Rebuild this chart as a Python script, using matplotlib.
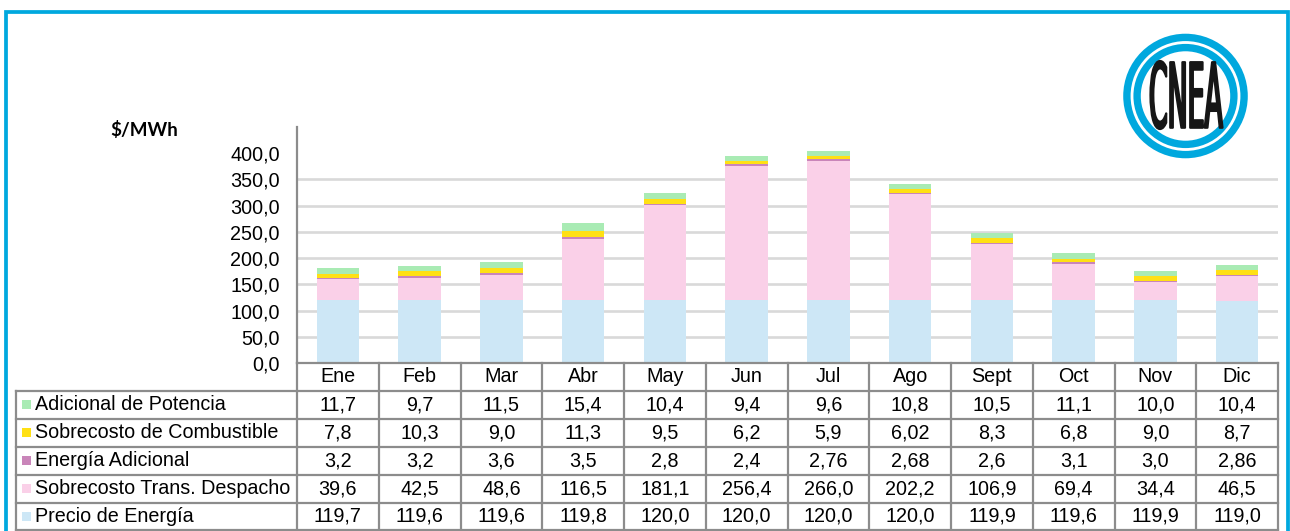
import matplotlib
matplotlib.use("Agg")
import matplotlib.pyplot as plt
from matplotlib.transforms import blended_transform_factory, Affine2D
from matplotlib.lines import Line2D
from matplotlib.patches import Rectangle, Circle, PathPatch
from matplotlib.textpath import TextPath
from matplotlib.font_manager import FontProperties

# ---------------- data ----------------
months = ["Ene", "Feb", "Mar", "Abr", "May", "Jun", "Jul", "Ago", "Sept", "Oct", "Nov", "Dic"]
precio_energia = [119.7, 119.6, 119.6, 119.8, 120.0, 120.0, 120.0, 120.0, 119.9, 119.6, 119.9, 119.0]
sobrecosto_trans = [39.6, 42.5, 48.6, 116.5, 181.1, 256.4, 266.0, 202.2, 106.9, 69.4, 34.4, 46.5]
energia_adicional = [3.2, 3.2, 3.6, 3.5, 2.8, 2.4, 2.76, 2.68, 2.6, 3.1, 3.0, 2.86]
sobrecosto_comb = [7.8, 10.3, 9.0, 11.3, 9.5, 6.2, 5.9, 6.02, 8.3, 6.8, 9.0, 8.7]
adicional_potencia = [11.7, 9.7, 11.5, 15.4, 10.4, 9.4, 9.6, 10.8, 10.5, 11.1, 10.0, 10.4]

series_names = ["Precio de Energía", "Sobrecosto Trans. Despacho", "Energía Adicional",
                "Sobrecosto de Combustible", "Adicional de Potencia"]
series_values = [precio_energia, sobrecosto_trans, energia_adicional, sobrecosto_comb, adicional_potencia]
series_colors = ["#CDE7F6", "#FAD0E8", "#C985B9", "#FFE014", "#A9EBB4"]
y_ticks = [0, 50, 100, 150, 200, 250, 300, 350, 400]
y_label = "$/MWh"

# ---------------- layout ----------------
W, H = 1290, 531
fx = lambda px: px / W
fy = lambda py: 1 - py / H

BLUE = "#00A8DE"
GRID = "#D9D9D9"
BORDER = "#8C8C8C"
FONT = "Liberation Sans"
FS = 14.2

fig = plt.figure(figsize=(W / 100, H / 100), dpi=100)
fig.patch.set_facecolor("white")

ax = fig.add_axes([fx(297), fy(363), fx(1278) - fx(297), fy(127) - fy(363)])
x = list(range(len(months)))
bottom = [0.0] * len(months)
for vals, col, name in zip(series_values, series_colors, series_names):
    ax.bar(x, vals, width=0.52, bottom=bottom, color=col, label=name, zorder=3)
    bottom = [b + v for b, v in zip(bottom, vals)]

ax.set_xlim(-0.5, len(months) - 0.5)
ax.set_ylim(0, 450)
ax.set_yticks(y_ticks)
ax.set_yticklabels([f"{v:.1f}".replace(".", ",") for v in y_ticks], fontfamily=FONT, fontsize=FS)
ax.set_xticks([])
ax.tick_params(axis="y", length=0, pad=12.5)
for t in y_ticks[1:-1]:
    ax.axhline(t, color=GRID, lw=1.9, zorder=1)
for s in ["top", "right"]:
    ax.spines[s].set_visible(False)
for s in ["left", "bottom"]:
    ax.spines[s].set_color(BORDER)
    ax.spines[s].set_linewidth(1.6)
    ax.spines[s].set_zorder(5)

ax.text(fx(110), fy(130), y_label, transform=fig.transFigure, ha="left", va="center",
        fontfamily="Lato", fontweight="bold", fontsize=13.5)

# ---------------- table ----------------
tr = blended_transform_factory(ax.transData, fig.transFigure)
header_top, row_h = 363, 27.9
rows_top = header_top + row_h
n_rows = len(series_names)
row_edges = [rows_top + i * row_h for i in range(n_rows + 1)]

# vertical column borders
for i in range(len(months) + 1):
    fig.add_artist(Line2D([i - 0.5, i - 0.5], [fy(header_top), fy(row_edges[-1] + 2)],
                          transform=tr, color=BORDER, lw=1.6))
# left border of label column
fig.add_artist(Line2D([fx(16), fx(16)], [fy(rows_top), fy(row_edges[-1] + 2)],
                      transform=fig.transFigure, color=BORDER, lw=1.6))
# horizontal borders
for ye in row_edges:
    fig.add_artist(Line2D([fx(16), fx(1278)], [fy(ye), fy(ye)],
                          transform=fig.transFigure, color=BORDER, lw=1.6))

# month headers
for i, m in enumerate(months):
    fig.text(i, fy(header_top + row_h / 2), m, transform=tr, ha="center", va="center",
             fontfamily=FONT, fontsize=FS)

def fmt(v):
    return str(v).replace(".", ",")

table_order = list(range(n_rows))[::-1]  # top row = top of stack
for r, si in enumerate(table_order):
    yc = fy(rows_top + r * row_h + row_h / 2)
    fig.add_artist(Rectangle((fx(22), yc - 4.5 / H), 9 / W, 9 / H, transform=fig.transFigure,
                             facecolor=series_colors[si], edgecolor="none"))
    fig.text(fx(35), yc, series_names[si], ha="left", va="center", fontfamily=FONT, fontsize=FS)
    for i, v in enumerate(series_values[si]):
        fig.text(i, yc, fmt(v), transform=tr, ha="center", va="center", fontfamily=FONT, fontsize=FS)

# ---------------- frame ----------------
fig.add_artist(Line2D([fx(5.5), fx(5.5), fx(1287.5), fx(1287.5)],
                      [fy(540), fy(11.5), fy(11.5), fy(540)],
                      transform=fig.transFigure, color=BLUE, lw=2.7, solid_joinstyle="miter"))

# ---------------- logo ----------------
lax = fig.add_axes([fx(1119.5), fy(162), 132 / W, 132 / H])
lax.set_xlim(-66, 66)
lax.set_ylim(-66, 66)
lax.set_aspect("equal")
lax.axis("off")
lax.add_patch(Circle((0, 0), 58.6, fill=False, edgecolor=BLUE, lw=5.3))
lax.add_patch(Circle((0, 0), 48.4, fill=False, edgecolor=BLUE, lw=5.3))
tp = TextPath((0, 0), "CNEA", size=10, prop=FontProperties(family="DejaVu Sans", weight="normal"))
ext = tp.get_extents()
tw, th = 72, 68
tf = (Affine2D().translate(-ext.x0, -ext.y0)
      .scale(tw / ext.width, th / ext.height)
      .translate(-tw / 2 + 1.0, -th / 2 + 1))
lax.add_patch(PathPatch(tf.transform_path(tp), facecolor="#161616", edgecolor="#161616", lw=1.6,
                        joinstyle="round"))

fig.savefig("out.png", dpi=100, facecolor="white")
